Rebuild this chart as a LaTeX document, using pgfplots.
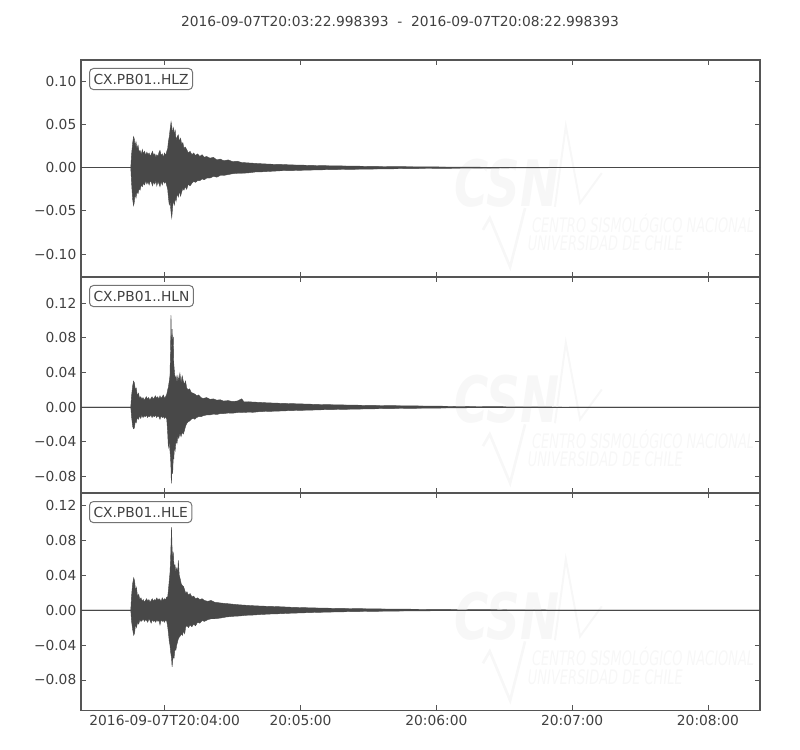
\documentclass[border=0pt]{standalone}
\usepackage{fontspec}
\setmainfont{DejaVu Sans}
\usepackage{pgfplots}
\pgfplotsset{compat=1.18}
\usepackage{pgfplotstable}
\usepgfplotslibrary{fillbetween}

\definecolor{trace}{RGB}{72,72,72}
\definecolor{txt}{RGB}{64,64,64}
\definecolor{frame}{RGB}{85,85,85}
\definecolor{boxc}{RGB}{115,115,115}
\definecolor{wm}{RGB}{247,247,247}

% envelopes of the traces: time (s after 20:03:22.998393), upper, lower
\pgfplotstableread{
t u l
0 0 0
22.0 0 0
22.3 0.014 -0.016
22.8 0.028 -0.036
23.2 0.036 -0.044
23.5 0.034 -0.041
23.9 0.025 -0.030
24.3 0.030 -0.035
24.7 0.022 -0.028
25.2 0.026 -0.030
25.7 0.018 -0.024
26.1 0.020 -0.026
26.6 0.015 -0.020
27.1 0.021 -0.022
27.6 0.016 -0.018
28.1 0.019 -0.020
28.6 0.014 -0.015
29.1 0.018 -0.019
29.6 0.015 -0.016
30.1 0.017 -0.020
30.6 0.013 -0.015
31.1 0.016 -0.017
31.6 0.019 -0.021
32.1 0.014 -0.016
32.6 0.016 -0.019
33.1 0.012 -0.015
33.5 0.015 -0.021
34.0 0.013 -0.016
34.5 0.018 -0.019
34.9 0.020 -0.022
35.4 0.014 -0.016
35.9 0.016 -0.020
36.4 0.012 -0.015
36.9 0.017 -0.018
37.4 0.014 -0.016
37.9 0.019 -0.021
38.3 0.022 -0.025
38.6 0.030 -0.034
39.0 0.036 -0.043
39.4 0.045 -0.040
39.8 0.053 -0.052
40.1 0.048 -0.058
40.5 0.040 -0.045
40.9 0.046 -0.038
41.3 0.036 -0.043
41.6 0.044 -0.034
42.0 0.032 -0.039
42.5 0.036 -0.030
43.0 0.038 -0.034
43.5 0.030 -0.027
44.0 0.034 -0.033
44.5 0.027 -0.028
45.0 0.029 -0.024
45.5 0.022 -0.026
46.0 0.024 -0.022
46.7 0.021 -0.025
47.4 0.017 -0.019
48.2 0.019 -0.021
49.0 0.015 -0.018
49.8 0.017 -0.016
50.6 0.014 -0.017
51.5 0.016 -0.015
52.5 0.013 -0.015
53.5 0.015 -0.013
54.5 0.012 -0.014
55.5 0.013 -0.012
57.0 0.011 -0.012
58.5 0.012 -0.010
60.0 0.009 -0.011
61.5 0.010 -0.009
63.0 0.008 -0.009
65.0 0.009 -0.008
67.0 0.007 -0.007
69.0 0.0075 -0.0065
71.0 0.006 -0.0065
74.0 0.0055 -0.006
77.0 0.005 -0.005
80.0 0.0045 -0.0048
84.0 0.004 -0.0042
88.0 0.0038 -0.0036
93.0 0.0032 -0.0034
98.0 0.0029 -0.003
104.0 0.0025 -0.0026
110.0 0.0022 -0.0023
118.0 0.0019 -0.002
126.0 0.0016 -0.0017
135.0 0.0013 -0.0014
145.0 0.0011 -0.0011
155.0 0.0009 -0.0009
165.0 0.0007 -0.0007
180.0 0.0005 -0.0005
195.0 0.0003 -0.0003
210.0 0.0001 -0.0001
225 0 0
300 0 0
}\hlz

\pgfplotstableread{
t u l
0 0 0
22.0 0 0
22.3 0.012 -0.010
22.8 0.024 -0.022
23.2 0.030 -0.025
23.6 0.028 -0.024
24.0 0.020 -0.016
24.4 0.022 -0.018
24.9 0.013 -0.012
25.4 0.016 -0.014
25.9 0.010 -0.010
26.4 0.012 -0.013
26.9 0.009 -0.009
27.4 0.011 -0.012
27.9 0.008 -0.010
28.4 0.010 -0.011
28.9 0.012 -0.009
29.4 0.009 -0.012
29.9 0.011 -0.010
30.4 0.008 -0.011
30.9 0.010 -0.009
31.4 0.012 -0.012
31.9 0.009 -0.010
32.4 0.011 -0.011
32.9 0.013 -0.009
33.4 0.010 -0.012
33.9 0.012 -0.010
34.4 0.009 -0.011
34.9 0.013 -0.014
35.4 0.010 -0.010
35.9 0.012 -0.012
36.4 0.014 -0.011
36.9 0.010 -0.013
37.4 0.012 -0.011
37.9 0.015 -0.014
38.3 0.020 -0.030
38.6 0.023 -0.046
39.0 0.030 -0.040
39.3 0.036 -0.050
39.6 0.070 -0.060
39.76 0.106 -0.070
39.9 0.080 -0.088
40.06 0.060 -0.082
40.25 0.090 -0.060
40.5 0.070 -0.077
40.8 0.081 -0.055
41.0 0.050 -0.060
41.3 0.040 -0.045
41.6 0.032 -0.050
42.0 0.036 -0.038
42.4 0.028 -0.042
42.8 0.036 -0.033
43.2 0.030 -0.036
43.7 0.039 -0.030
44.2 0.028 -0.034
44.7 0.036 -0.029
45.2 0.030 -0.031
45.7 0.026 -0.027
46.2 0.030 -0.022
46.7 0.022 -0.019
47.3 0.020 -0.017
48.0 0.021 -0.016
48.7 0.017 -0.014
49.5 0.016 -0.013
50.3 0.015 -0.014
51.1 0.013 -0.012
52.0 0.014 -0.011
53.0 0.011 -0.011
54.0 0.010 -0.010
55.5 0.011 -0.009
57.0 0.009 -0.009
58.5 0.0095 -0.008
60.0 0.008 -0.0085
61.5 0.0085 -0.0075
63.0 0.007 -0.0075
65.0 0.0075 -0.0068
67.0 0.0065 -0.007
69.0 0.007 -0.0063
71.0 0.0096 -0.006
72.0 0.006 -0.0062
74.0 0.0062 -0.0058
76.0 0.0058 -0.006
79.0 0.0055 -0.0052
82.0 0.005 -0.005
86.0 0.0046 -0.0047
91.0 0.0042 -0.0042
96.0 0.0038 -0.0038
101.0 0.0034 -0.0035
106.0 0.003 -0.0031
112.0 0.0027 -0.0028
120.0 0.0023 -0.0024
128.0 0.002 -0.002
137.0 0.0017 -0.0017
147.0 0.0014 -0.0014
158.0 0.0011 -0.0011
170.0 0.0008 -0.0008
185.0 0.0005 -0.0005
200.0 0.0003 -0.0003
215 0.0001 -0.0001
230 0 0
300 0 0
}\hln

\pgfplotstableread{
t u l
0 0 0
22.0 0 0
22.3 0.015 -0.012
22.8 0.030 -0.022
23.3 0.037 -0.029
23.7 0.033 -0.026
24.1 0.022 -0.016
24.5 0.026 -0.020
25.0 0.015 -0.014
25.5 0.018 -0.016
26.0 0.012 -0.011
26.5 0.014 -0.013
27.0 0.010 -0.012
27.5 0.012 -0.010
28.0 0.009 -0.013
28.5 0.011 -0.011
29.0 0.013 -0.012
29.5 0.010 -0.014
30.0 0.012 -0.010
30.5 0.009 -0.012
31.0 0.011 -0.015
31.5 0.013 -0.011
32.0 0.010 -0.013
32.5 0.012 -0.012
33.0 0.011 -0.014
33.5 0.014 -0.011
34.0 0.011 -0.013
34.5 0.013 -0.012
34.9 0.012 -0.017
35.4 0.010 -0.011
35.9 0.014 -0.013
36.4 0.011 -0.012
36.9 0.013 -0.014
37.4 0.012 -0.011
37.9 0.015 -0.013
38.3 0.015 -0.019
38.7 0.025 -0.028
39.0 0.034 -0.036
39.3 0.042 -0.040
39.6 0.060 -0.048
40.0 0.095 -0.055
40.25 0.070 -0.065
40.5 0.060 -0.058
40.8 0.065 -0.052
41.1 0.050 -0.055
41.5 0.052 -0.045
41.9 0.044 -0.046
42.3 0.048 -0.040
42.7 0.042 -0.036
43.0 0.057 -0.033
43.4 0.040 -0.031
43.8 0.036 -0.030
44.3 0.030 -0.027
44.8 0.028 -0.029
45.3 0.027 -0.024
45.8 0.023 -0.027
46.3 0.019 -0.019
46.8 0.021 -0.018
47.5 0.017 -0.020
48.2 0.019 -0.017
49.0 0.015 -0.019
49.8 0.016 -0.016
50.6 0.013 -0.018
51.5 0.014 -0.014
52.5 0.012 -0.015
53.5 0.013 -0.012
54.5 0.011 -0.013
56.0 0.010 -0.011
57.5 0.011 -0.010
59.0 0.009 -0.010
60.5 0.0085 -0.0095
62.0 0.008 -0.009
64.0 0.0075 -0.008
66.0 0.007 -0.0075
68.0 0.0065 -0.007
70.0 0.006 -0.0068
73.0 0.0055 -0.006
76.0 0.005 -0.0057
80.0 0.0045 -0.005
84.0 0.0042 -0.0045
88.0 0.0038 -0.0042
93.0 0.0032 -0.0036
98.0 0.0028 -0.0032
104.0 0.0024 -0.0027
110.0 0.0021 -0.0023
118.0 0.0018 -0.0019
126.0 0.0015 -0.0016
135.0 0.0012 -0.0013
145.0 0.001 -0.001
157.0 0.0008 -0.0008
170.0 0.0006 -0.0006
185.0 0.0004 -0.0004
200.0 0.0002 -0.0002
215 0 0
300 0 0
}\hle

\newcommand{\lbl}{\fontsize{10.35}{12.4}\selectfont}

\pgfplotsset{
  seis/.style={
    scale only axis,
    width=509.25pt,
    anchor=south west,
    xmin=0, xmax=300,
    axis line style={frame, line width=0.9pt},
    tick style={frame, line width=0.6pt},
    tick align=inside,
    major tick length=3.75pt,
    xtick pos=both, ytick pos=both,
    xtick={37.0016,97.0016,157.0016,217.0016,277.0016},
    xticklabels={},
    tick label style={font=\lbl, text=txt},
  },
}
\tikzset{
  stn/.style={draw=boxc, line width=0.75pt, rounded corners=3pt, fill=white,
    text=txt, font=\lbl, inner xsep=3pt, inner ysep=4pt,
    anchor=north west, xshift=6pt, yshift=-6pt},
}

% faint CSN logo behind each trace
\newcommand{\watermark}{%
  \node[text=wm, inner sep=0pt, font=\fontsize{48}{48}\selectfont\bfseries\itshape, xscale=0.73]
    at (rel axis cs:0.627,0.433) {CSN};
  \node[text=wm, inner sep=0pt, font=\fontsize{15}{15}\selectfont\itshape, xscale=0.65, anchor=west]
    at (rel axis cs:0.664,0.248) {CENTRO SISMOLÓGICO NACIONAL};
  \node[text=wm, inner sep=0pt, font=\fontsize{15}{15}\selectfont\itshape, xscale=0.65, anchor=west]
    at (rel axis cs:0.658,0.155) {UNIVERSIDAD DE CHILE};
  \draw[wm, line width=2pt] (rel axis cs:0.592,0.217) -- (rel axis cs:0.602,0.272)
    -- (rel axis cs:0.632,0.046) -- (rel axis cs:0.654,0.318);
  \draw[wm, line width=1.5pt] (rel axis cs:0.698,0.323) -- (rel axis cs:0.714,0.696)
    -- (rel axis cs:0.735,0.341) -- (rel axis cs:0.767,0.479);
}

\begin{document}
\begin{tikzpicture}

% HLZ
\begin{axis}[seis, at={(60.75pt,354.75pt)}, height=162.75pt,
  ymin=-0.1265, ymax=0.1246,
  ytick={-0.10,-0.05,0,0.05,0.10},
  yticklabels={−0.10,−0.05,0.00,0.05,0.10}]
  \watermark
  \addplot[trace, line width=0.3pt, name path=upZ] table[x=t, y=u] {\hlz};
  \addplot[trace, line width=0.3pt, name path=loZ] table[x=t, y=l] {\hlz};
  \addplot[trace] fill between[of=upZ and loZ];
  \addplot[trace, line width=0.75pt] coordinates {(0,0) (300,0)};
  \node[stn] at (rel axis cs:0,1) {CX.PB01..HLZ};
\end{axis}

% HLN
\begin{axis}[seis, at={(60.75pt,192.75pt)}, height=162pt,
  ymin=-0.099, ymax=0.150,
  ytick={-0.08,-0.04,0,0.04,0.08,0.12},
  yticklabels={−0.08,−0.04,0.00,0.04,0.08,0.12}]
  \watermark
  \addplot[trace, line width=0.3pt, name path=upN] table[x=t, y=u] {\hln};
  \addplot[trace, line width=0.3pt, name path=loN] table[x=t, y=l] {\hln};
  \addplot[trace] fill between[of=upN and loN];
  \addplot[trace, line width=0.75pt] coordinates {(0,0) (300,0)};
  \node[stn] at (rel axis cs:0,1) {CX.PB01..HLN};
\end{axis}

% HLE
\begin{axis}[seis, at={(60.75pt,29.625pt)}, height=163.1pt,
  ymin=-0.115, ymax=0.134,
  ytick={-0.08,-0.04,0,0.04,0.08,0.12},
  yticklabels={−0.08,−0.04,0.00,0.04,0.08,0.12},
  xticklabels={2016-09-07T20:04:00,20:05:00,20:06:00,20:07:00,20:08:00}]
  \watermark
  \addplot[trace, line width=0.3pt, name path=upE] table[x=t, y=u] {\hle};
  \addplot[trace, line width=0.3pt, name path=loE] table[x=t, y=l] {\hle};
  \addplot[trace] fill between[of=upE and loE];
  \addplot[trace, line width=0.75pt] coordinates {(0,0) (300,0)};
  \node[stn] at (rel axis cs:0,1) {CX.PB01..HLE};
\end{axis}

\node[text=txt, font=\lbl] at (300pt,546.75pt)
  {2016-09-07T20:03:22.998393\ \ -\ \ 2016-09-07T20:08:22.998393};
\path (0,0) rectangle (600pt,562.5pt);
\end{tikzpicture}
\end{document}
